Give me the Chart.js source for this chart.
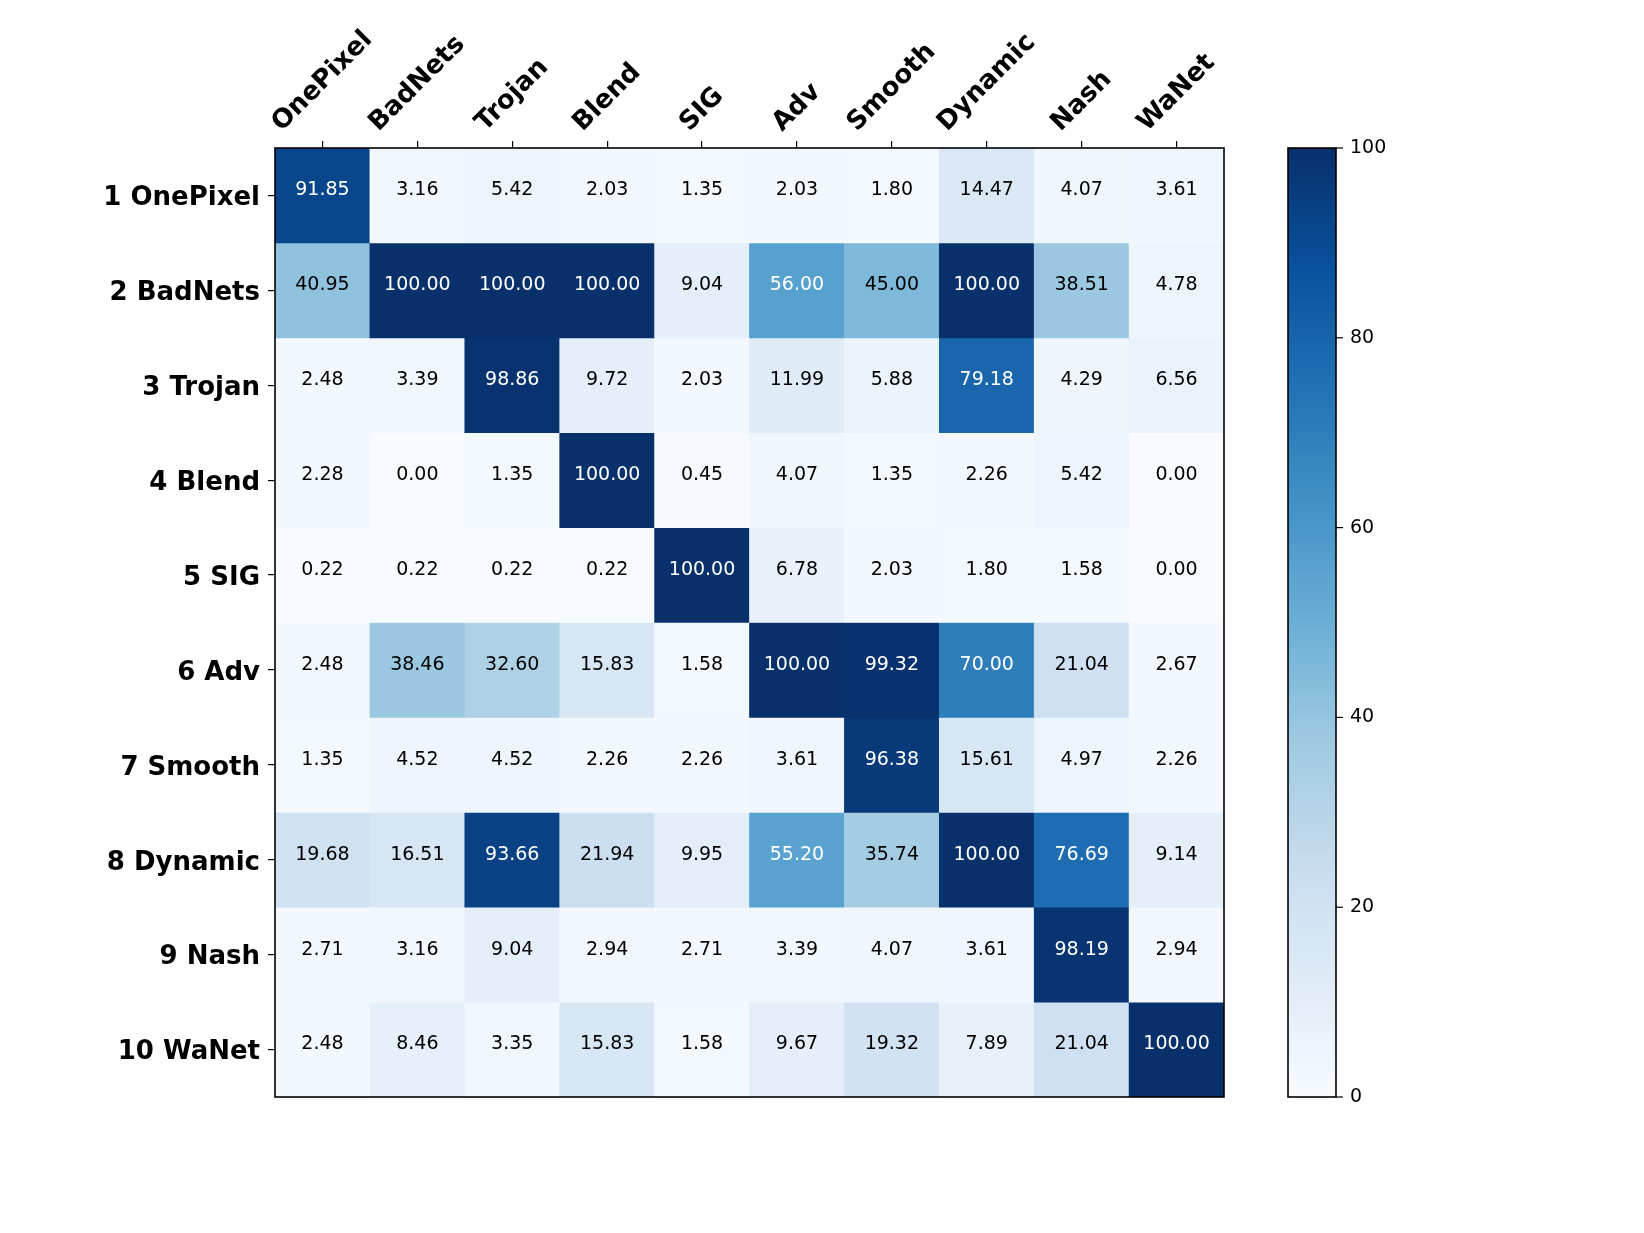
<!DOCTYPE html>
<html>
<head>
<meta charset="utf-8">
<script src="https://cdn.jsdelivr.net/npm/chart.js@4/dist/chart.umd.min.js"></script>
<style>
  html, body { margin: 0; padding: 0; background: #fff; }
  canvas { display: block; }
</style>
</head>
<body>
<canvas id="heat" width="1644" height="1233"></canvas>
<script>
const columns = ["OnePixel", "BadNets", "Trojan", "Blend", "SIG", "Adv", "Smooth", "Dynamic", "Nash", "WaNet"];
const rowLabels = ["1 OnePixel", "2 BadNets", "3 Trojan", "4 Blend", "5 SIG", "6 Adv", "7 Smooth", "8 Dynamic", "9 Nash", "10 WaNet"];

const onePixelRow = [91.85, 3.16, 5.42, 2.03, 1.35, 2.03, 1.80, 14.47, 4.07, 3.61];
const badNetsRow = [40.95, 100.00, 100.00, 100.00, 9.04, 56.00, 45.00, 100.00, 38.51, 4.78];
const trojanRow = [2.48, 3.39, 98.86, 9.72, 2.03, 11.99, 5.88, 79.18, 4.29, 6.56];
const blendRow = [2.28, 0.00, 1.35, 100.00, 0.45, 4.07, 1.35, 2.26, 5.42, 0.00];
const sigRow = [0.22, 0.22, 0.22, 0.22, 100.00, 6.78, 2.03, 1.80, 1.58, 0.00];
const advRow = [2.48, 38.46, 32.60, 15.83, 1.58, 100.00, 99.32, 70.00, 21.04, 2.67];
const smoothRow = [1.35, 4.52, 4.52, 2.26, 2.26, 3.61, 96.38, 15.61, 4.97, 2.26];
const dynamicRow = [19.68, 16.51, 93.66, 21.94, 9.95, 55.20, 35.74, 100.00, 76.69, 9.14];
const nashRow = [2.71, 3.16, 9.04, 2.94, 2.71, 3.39, 4.07, 3.61, 98.19, 2.94];
const waNetRow = [2.48, 8.46, 3.35, 15.83, 1.58, 9.67, 19.32, 7.89, 21.04, 100.00];

const rows = [onePixelRow, badNetsRow, trojanRow, blendRow, sigRow, advRow, smoothRow, dynamicRow, nashRow, waNetRow];
const cbTicks = [0, 20, 40, 60, 80, 100];

// matplotlib "Blues"
const bluesStops = [
    [247, 251, 255], [222, 235, 247], [198, 219, 239], [158, 202, 225], [107, 174, 214],
    [66, 146, 198], [33, 113, 181], [8, 81, 156], [8, 48, 107]
];
function blues(t) {
    t = Math.max(0, Math.min(1, t));
    const pos = t * (bluesStops.length - 1);
    const i = Math.min(Math.floor(pos), bluesStops.length - 2);
    const f = pos - i;
    const a = bluesStops[i], b = bluesStops[i + 1];
    const c = a.map((v, k) => Math.round(v + (b[k] - v) * f));
    return "rgb(" + c[0] + "," + c[1] + "," + c[2] + ")";
}

const FONT = "'DejaVu Sans', 'Liberation Sans', sans-serif";

const datasets = rows.map((vals, r) => ({
    label: rowLabels[r],
    data: vals.map(() => [r + 0.5, r + 1.5]),
    backgroundColor: vals.map((v) => blues(v / 100)),
    borderWidth: 0,
    barPercentage: 1.0,
    categoryPercentage: 1.0,
    grouped: false,
}));

const heatPlugin = {
    id: "heatExtras",
    afterDatasetsDraw(chart) {
        const ctx = chart.ctx;
        const area = chart.chartArea;
        const xs = chart.scales.x;
        const cb = chart.scales.cb;

        // cell values (sit a little above the cell centre, like the original)
        ctx.save();
        ctx.font = "19px " + FONT;
        ctx.textAlign = "center";
        ctx.textBaseline = "middle";
        chart.data.datasets.forEach((ds, r) => {
            const meta = chart.getDatasetMeta(r);
            meta.data.forEach((el, c) => {
                const v = rows[r][c];
                ctx.fillStyle = v > 50 ? "#ffffff" : "#000000";
                ctx.fillText(v.toFixed(2), el.x, (el.y + el.base) / 2 - 5);
            });
        });
        ctx.restore();

        // frame
        ctx.save();
        ctx.strokeStyle = "#000";
        ctx.lineWidth = 1.6;
        ctx.strokeRect(area.left, area.top, area.right - area.left, area.bottom - area.top);
        ctx.restore();

        // rotated column labels
        ctx.save();
        ctx.font = "bold 26px " + FONT;
        ctx.fillStyle = "#000";
        ctx.textAlign = "center";
        ctx.textBaseline = "middle";
        const h = 26 * 1.16;
        columns.forEach((lab, i) => {
            const cx = xs.getPixelForValue(i);
            const w = ctx.measureText(lab).width;
            const half = (w + h) / (2 * Math.SQRT2);
            const cy = area.top - 10 - half;
            ctx.save();
            ctx.translate(cx, cy);
            ctx.rotate(-Math.PI / 4);
            ctx.fillText(lab, 0, 0);
            ctx.restore();
        });
        ctx.restore();

        // colorbar
        const cbLeft = 1288, cbRight = 1336;
        const yTop = cb.getPixelForValue(100), yBot = cb.getPixelForValue(0);
        const grad = ctx.createLinearGradient(0, yBot, 0, yTop);
        for (let k = 0; k <= 40; k++) {
            grad.addColorStop(k / 40, blues(k / 40));
        }
        ctx.save();
        ctx.fillStyle = grad;
        ctx.fillRect(cbLeft, yTop, cbRight - cbLeft, yBot - yTop);
        ctx.strokeStyle = "#000";
        ctx.lineWidth = 1.6;
        ctx.strokeRect(cbLeft, yTop, cbRight - cbLeft, yBot - yTop);
        ctx.lineWidth = 1.2;
        ctx.font = "19px " + FONT;
        ctx.fillStyle = "#000";
        ctx.textAlign = "left";
        ctx.textBaseline = "middle";
        cbTicks.forEach((t) => {
            const y = cb.getPixelForValue(t);
            ctx.beginPath();
            ctx.moveTo(cbRight, y);
            ctx.lineTo(cbRight + 7, y);
            ctx.stroke();
            ctx.fillText(String(t), cbRight + 14, y);
        });
        ctx.restore();
    },
};

new Chart(document.getElementById("heat"), {
    type: "bar",
    data: { labels: columns, datasets: datasets },
    options: {
        responsive: false,
        animation: false,
        devicePixelRatio: 1,
        layout: { padding: { left: 0, top: 0, right: 420, bottom: 136 } },
        plugins: {
            legend: { display: false },
            title: { display: false },
            tooltip: { enabled: false },
        },
        scales: {
            x: {
                type: "category",
                position: "top",
                offset: true,
                grid: {
                    display: true,
                    drawOnChartArea: false,
                    drawTicks: true,
                    tickLength: 7,
                    color: "#000",
                    lineWidth: 1.2,
                    offset: false,
                },
                border: { display: false },
                ticks: { display: false },
                afterFit(scale) { scale.height = 148; },
            },
            y: {
                type: "linear",
                min: 0.5,
                max: 10.5,
                reverse: true,
                afterBuildTicks(scale) {
                    scale.ticks = rowLabels.map((_, i) => ({ value: i + 1 }));
                },
                grid: {
                    display: true,
                    drawOnChartArea: false,
                    drawTicks: true,
                    tickLength: 7,
                    color: "#000",
                    lineWidth: 1.2,
                },
                border: { display: false },
                ticks: {
                    autoSkip: false,
                    padding: 8,
                    labelOffset: 3,
                    color: "#000",
                    font: { family: FONT, size: 26, weight: "bold" },
                    callback: (v) => rowLabels[Math.round(v) - 1],
                },
                afterFit(scale) { scale.width = 275; },
            },
            cb: {
                type: "linear",
                position: "right",
                display: false,
                min: 0,
                max: 100,
            },
        },
    },
    plugins: [heatPlugin],
});
</script>
</body>
</html>
